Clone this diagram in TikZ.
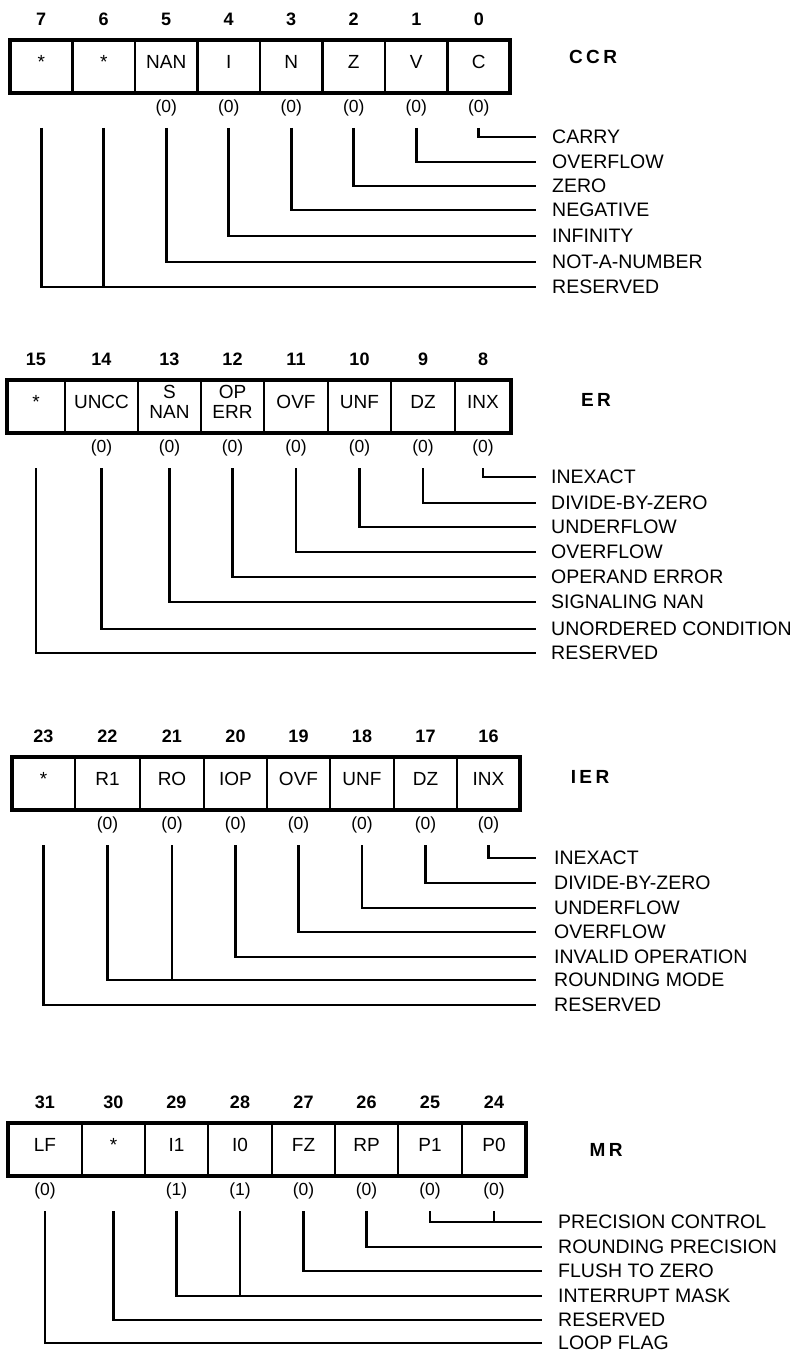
\documentclass[tikz,border=0pt]{standalone}
\usepackage{fontspec}
\setmainfont{Liberation Sans}
\usetikzlibrary{positioning}
\tikzset{
  bitcell/.style={draw, line width=2.4pt, outer sep=0pt, inner sep=0pt,
    minimum width=#1, minimum height=53pt, align=center, text depth=10pt,
    font=\fontsize{19}{20}\selectfont},
  bitcell/.default=63pt,
  bitnum/.style={inner sep=0pt, font=\fontsize{18}{18}\selectfont\bfseries},
  resetval/.style={inner sep=0pt, font=\fontsize{17.5}{18}\selectfont},
  flagname/.style={anchor=west, inner sep=0pt, font=\fontsize{19.5}{20}\selectfont},
  regname/.style={inner sep=0pt,
    font=\fontsize{19}{19}\selectfont\bfseries\addfontfeature{LetterSpace=18}},
  regframe/.style={line width=3.4pt},
  bitline/.style={line width=2.8pt}
}

\begin{document}
\begin{tikzpicture}[x=1pt, y=-1pt]
  \useasboundingbox (0,0) rectangle (799,1356);

  % CCR
  \node[bitcell=62.5pt, anchor=north west] (ccr7) at (10,40) {*};
  \node[bitcell=62.5pt, right=0pt of ccr7] (ccr6) {*};
  \node[bitcell=62.5pt, right=0pt of ccr6] (ccr5) {NAN};
  \node[bitcell=62.5pt, right=0pt of ccr5] (ccr4) {I};
  \node[bitcell=62.5pt, right=0pt of ccr4] (ccr3) {N};
  \node[bitcell=62.5pt, right=0pt of ccr3] (ccr2) {Z};
  \node[bitcell=62.5pt, right=0pt of ccr2] (ccr1) {V};
  \node[bitcell=62.5pt, right=0pt of ccr1] (ccr0) {C};
  \draw[regframe] (ccr7.north west) rectangle (ccr0.south east);
  \node[regname] (ccrname) at (593,57) {CCR};

  \node[bitnum, above=14pt of ccr7] (ccrn7) {7};
  \node[bitnum, above=14pt of ccr6] (ccrn6) {6};
  \node[bitnum, above=14pt of ccr5] (ccrn5) {5};
  \node[bitnum, above=14pt of ccr4] (ccrn4) {4};
  \node[bitnum, above=14pt of ccr3] (ccrn3) {3};
  \node[bitnum, above=14pt of ccr2] (ccrn2) {2};
  \node[bitnum, above=14pt of ccr1] (ccrn1) {1};
  \node[bitnum, above=14pt of ccr0] (ccrn0) {0};

  \node[resetval, below=7pt of ccr5] (ccrr5) {(0)};
  \node[resetval, below=7pt of ccr4] (ccrr4) {(0)};
  \node[resetval, below=7pt of ccr3] (ccrr3) {(0)};
  \node[resetval, below=7pt of ccr2] (ccrr2) {(0)};
  \node[resetval, below=7pt of ccr1] (ccrr1) {(0)};
  \node[resetval, below=7pt of ccr0] (ccrr0) {(0)};

  \node[flagname] (ccrC) at (552,137) {CARRY};
  \node[flagname] (ccrV) at (552,162) {OVERFLOW};
  \node[flagname] (ccrZ) at (552,186) {ZERO};
  \node[flagname] (ccrN) at (552,210) {NEGATIVE};
  \node[flagname] (ccrI) at (552,236) {INFINITY};
  \node[flagname] (ccrNan) at (552,262) {NOT-A-NUMBER};
  \node[flagname] (ccrRes) at (552,287) {RESERVED};

  \draw[bitline] ([yshift=-35pt]ccr0.south) |- ([xshift=-16pt]ccrC.west);
  \draw[bitline] ([yshift=-35pt]ccr1.south) |- ([xshift=-16pt]ccrV.west);
  \draw[bitline] ([yshift=-35pt]ccr2.south) |- ([xshift=-16pt]ccrZ.west);
  \draw[bitline] ([yshift=-35pt]ccr3.south) |- ([xshift=-16pt]ccrN.west);
  \draw[bitline] ([yshift=-35pt]ccr4.south) |- ([xshift=-16pt]ccrI.west);
  \draw[bitline] ([yshift=-35pt]ccr5.south) |- ([xshift=-16pt]ccrNan.west);
  \draw[bitline] ([yshift=-35pt]ccr7.south) |- ([xshift=-16pt]ccrRes.west);
  \draw[bitline] ([yshift=-35pt]ccr6.south) -- (ccr6.south |- ccrRes.west);

  % ER
  \node[bitcell=58pt, anchor=north west] (er15) at (7,380) {*};
  \node[bitcell=73pt, right=0pt of er15] (er14) {UNCC};
  \node[bitcell=63pt, right=0pt of er14] (er13) {S\\NAN};
  \node[bitcell=63pt, right=0pt of er13] (er12) {OP\\ERR};
  \node[bitcell=64pt, right=0pt of er12] (er11) {OVF};
  \node[bitcell=63pt, right=0pt of er11] (er10) {UNF};
  \node[bitcell=64pt, right=0pt of er10] (er9) {DZ};
  \node[bitcell=56pt, right=0pt of er9] (er8) {INX};
  \draw[regframe] (er15.north west) rectangle (er8.south east);
  \node[regname] (ername) at (596,400) {ER};

  \node[bitnum, above=14pt of er15] (ern15) {15};
  \node[bitnum, above=14pt of er14] (ern14) {14};
  \node[bitnum, above=14pt of er13] (ern13) {13};
  \node[bitnum, above=14pt of er12] (ern12) {12};
  \node[bitnum, above=14pt of er11] (ern11) {11};
  \node[bitnum, above=14pt of er10] (ern10) {10};
  \node[bitnum, above=14pt of er9] (ern9) {9};
  \node[bitnum, above=14pt of er8] (ern8) {8};

  \node[resetval, below=7pt of er14] (err14) {(0)};
  \node[resetval, below=7pt of er13] (err13) {(0)};
  \node[resetval, below=7pt of er12] (err12) {(0)};
  \node[resetval, below=7pt of er11] (err11) {(0)};
  \node[resetval, below=7pt of er10] (err10) {(0)};
  \node[resetval, below=7pt of er9] (err9) {(0)};
  \node[resetval, below=7pt of er8] (err8) {(0)};

  \node[flagname] (erInx) at (551,477) {INEXACT};
  \node[flagname] (erDz) at (551,503) {DIVIDE-BY-ZERO};
  \node[flagname] (erUnf) at (551,527) {UNDERFLOW};
  \node[flagname] (erOvf) at (551,552) {OVERFLOW};
  \node[flagname] (erOp) at (551,577) {OPERAND ERROR};
  \node[flagname] (erSnan) at (551,602) {SIGNALING NAN};
  \node[flagname] (erUncc) at (551,629) {UNORDERED CONDITION};
  \node[flagname] (erRes) at (551,653) {RESERVED};

  \draw[bitline] ([yshift=-35pt]er8.south) |- ([xshift=-15pt]erInx.west);
  \draw[bitline] ([yshift=-35pt]er9.south) |- ([xshift=-15pt]erDz.west);
  \draw[bitline] ([yshift=-35pt]er10.south) |- ([xshift=-15pt]erUnf.west);
  \draw[bitline] ([yshift=-35pt]er11.south) |- ([xshift=-15pt]erOvf.west);
  \draw[bitline] ([yshift=-35pt]er12.south) |- ([xshift=-15pt]erOp.west);
  \draw[bitline] ([yshift=-35pt]er13.south) |- ([xshift=-15pt]erSnan.west);
  \draw[bitline] ([yshift=-35pt]er14.south) |- ([xshift=-15pt]erUncc.west);
  \draw[bitline] ([yshift=-35pt]er15.south) |- ([xshift=-15pt]erRes.west);

  % IER
  \node[bitcell=63pt, anchor=north west] (ier23) at (12,757) {*};
  \node[bitcell=65pt, right=0pt of ier23] (ier22) {R1};
  \node[bitcell=64pt, right=0pt of ier22] (ier21) {RO};
  \node[bitcell=63pt, right=0pt of ier21] (ier20) {IOP};
  \node[bitcell=63pt, right=0pt of ier20] (ier19) {OVF};
  \node[bitcell=64pt, right=0pt of ier19] (ier18) {UNF};
  \node[bitcell=63pt, right=0pt of ier18] (ier17) {DZ};
  \node[bitcell=63pt, right=0pt of ier17] (ier16) {INX};
  \draw[regframe] (ier23.north west) rectangle (ier16.south east);
  \node[regname] (iername) at (590,777) {IER};

  \node[bitnum, above=14pt of ier23] (iern23) {23};
  \node[bitnum, above=14pt of ier22] (iern22) {22};
  \node[bitnum, above=14pt of ier21] (iern21) {21};
  \node[bitnum, above=14pt of ier20] (iern20) {20};
  \node[bitnum, above=14pt of ier19] (iern19) {19};
  \node[bitnum, above=14pt of ier18] (iern18) {18};
  \node[bitnum, above=14pt of ier17] (iern17) {17};
  \node[bitnum, above=14pt of ier16] (iern16) {16};

  \node[resetval, below=7pt of ier22] (ierr22) {(0)};
  \node[resetval, below=7pt of ier21] (ierr21) {(0)};
  \node[resetval, below=7pt of ier20] (ierr20) {(0)};
  \node[resetval, below=7pt of ier19] (ierr19) {(0)};
  \node[resetval, below=7pt of ier18] (ierr18) {(0)};
  \node[resetval, below=7pt of ier17] (ierr17) {(0)};
  \node[resetval, below=7pt of ier16] (ierr16) {(0)};

  \node[flagname] (ierInx) at (554,858) {INEXACT};
  \node[flagname] (ierDz) at (554,883) {DIVIDE-BY-ZERO};
  \node[flagname] (ierUnf) at (554,908) {UNDERFLOW};
  \node[flagname] (ierOvf) at (554,932) {OVERFLOW};
  \node[flagname] (ierIop) at (554,957) {INVALID OPERATION};
  \node[flagname] (ierRnd) at (554,980) {ROUNDING MODE};
  \node[flagname] (ierRes) at (554,1005) {RESERVED};

  \draw[bitline] ([yshift=-35pt]ier16.south) |- ([xshift=-18pt]ierInx.west);
  \draw[bitline] ([yshift=-35pt]ier17.south) |- ([xshift=-18pt]ierDz.west);
  \draw[bitline] ([yshift=-35pt]ier18.south) |- ([xshift=-18pt]ierUnf.west);
  \draw[bitline] ([yshift=-35pt]ier19.south) |- ([xshift=-18pt]ierOvf.west);
  \draw[bitline] ([yshift=-35pt]ier20.south) |- ([xshift=-18pt]ierIop.west);
  \draw[bitline] ([yshift=-35pt]ier22.south) |- ([xshift=-18pt]ierRnd.west);
  \draw[bitline] ([yshift=-35pt]ier21.south) -- (ier21.south |- ierRnd.west);
  \draw[bitline] ([yshift=-35pt]ier23.south) |- ([xshift=-18pt]ierRes.west);

  % MR
  \node[bitcell=74pt, anchor=north west] (mr31) at (8,1123) {LF};
  \node[bitcell=63pt, right=0pt of mr31] (mr30) {*};
  \node[bitcell=63pt, right=0pt of mr30] (mr29) {I1};
  \node[bitcell=64pt, right=0pt of mr29] (mr28) {I0};
  \node[bitcell=63pt, right=0pt of mr28] (mr27) {FZ};
  \node[bitcell=63pt, right=0pt of mr27] (mr26) {RP};
  \node[bitcell=64pt, right=0pt of mr26] (mr25) {P1};
  \node[bitcell=64pt, right=0pt of mr25] (mr24) {P0};
  \draw[regframe] (mr31.north west) rectangle (mr24.south east);
  \node[regname] (mrname) at (606,1150) {MR};

  \node[bitnum, above=14pt of mr31] (mrn31) {31};
  \node[bitnum, above=14pt of mr30] (mrn30) {30};
  \node[bitnum, above=14pt of mr29] (mrn29) {29};
  \node[bitnum, above=14pt of mr28] (mrn28) {28};
  \node[bitnum, above=14pt of mr27] (mrn27) {27};
  \node[bitnum, above=14pt of mr26] (mrn26) {26};
  \node[bitnum, above=14pt of mr25] (mrn25) {25};
  \node[bitnum, above=14pt of mr24] (mrn24) {24};

  \node[resetval, below=7pt of mr31] (mrr31) {(0)};
  \node[resetval, below=7pt of mr29] (mrr29) {(1)};
  \node[resetval, below=7pt of mr28] (mrr28) {(1)};
  \node[resetval, below=7pt of mr27] (mrr27) {(0)};
  \node[resetval, below=7pt of mr26] (mrr26) {(0)};
  \node[resetval, below=7pt of mr25] (mrr25) {(0)};
  \node[resetval, below=7pt of mr24] (mrr24) {(0)};

  \node[flagname] (mrPc) at (558,1222) {PRECISION CONTROL};
  \node[flagname] (mrRp) at (558,1247) {ROUNDING PRECISION};
  \node[flagname] (mrFz) at (558,1271) {FLUSH TO ZERO};
  \node[flagname] (mrIm) at (558,1296) {INTERRUPT MASK};
  \node[flagname] (mrRes) at (558,1320) {RESERVED};
  \node[flagname] (mrLf) at (558,1343) {LOOP FLAG};

  \draw[bitline] ([yshift=-35pt]mr25.south) |- ([xshift=-16pt]mrPc.west);
  \draw[bitline] ([yshift=-35pt]mr24.south) -- (mr24.south |- mrPc.west);
  \draw[bitline] ([yshift=-35pt]mr26.south) |- ([xshift=-16pt]mrRp.west);
  \draw[bitline] ([yshift=-35pt]mr27.south) |- ([xshift=-16pt]mrFz.west);
  \draw[bitline] ([yshift=-35pt]mr29.south) |- ([xshift=-16pt]mrIm.west);
  \draw[bitline] ([yshift=-35pt]mr28.south) -- (mr28.south |- mrIm.west);
  \draw[bitline] ([yshift=-35pt]mr30.south) |- ([xshift=-16pt]mrRes.west);
  \draw[bitline] ([yshift=-35pt]mr31.south) |- ([xshift=-16pt]mrLf.west);
\end{tikzpicture}
\end{document}
